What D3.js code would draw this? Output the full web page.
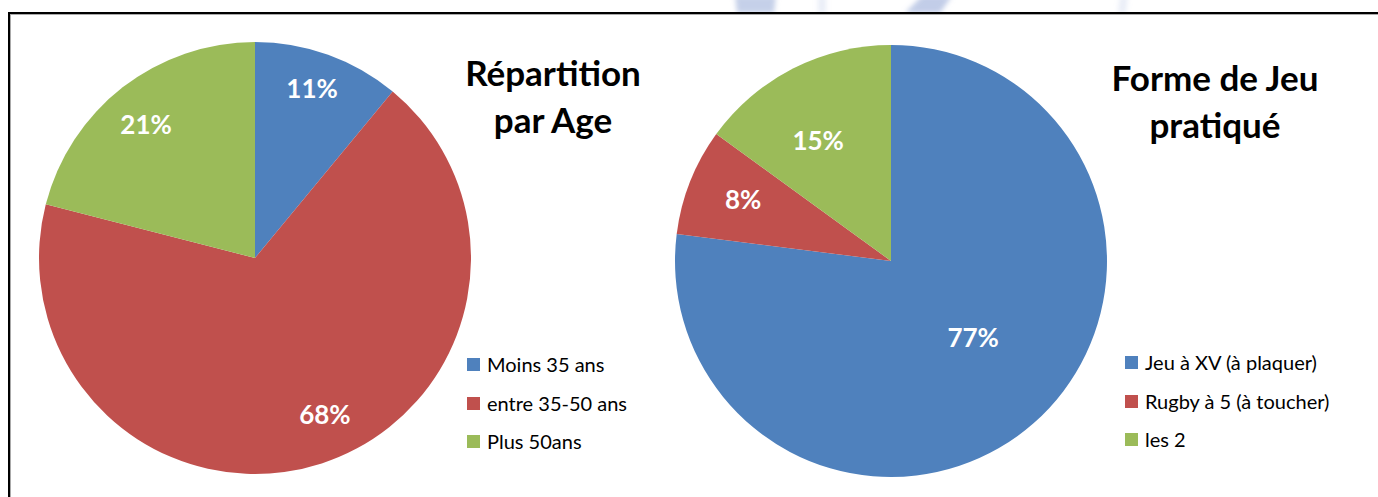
<!DOCTYPE html>
<html>
<head>
<meta charset="utf-8">
<script src="https://cdn.jsdelivr.net/npm/d3@7"></script>
<style>
  body { margin: 0; background: #fff; }
  svg { display: block; font-family: Lato, "Noto Sans", sans-serif; }
</style>
</head>
<body>
<svg id="chart" width="1378" height="497"></svg>
<script>
// chart values
const ageCategories = ['Moins 35 ans', 'entre 35-50 ans', 'Plus 50ans'];
const ageValues = [11, 68, 21];
const ageTitle = ['Répartition', 'par Age'];

const jeuCategories = ['Jeu à XV (à plaquer)', 'Rugby à 5 (à toucher)', 'les 2'];
const jeuValues = [77, 8, 15];
const jeuTitle = ['Forme de Jeu', 'pratiqué'];

const colors = ['#4F81BD', '#C0504D', '#9BBB59'];

const svg = d3.select('#chart');

// faint watermark bits showing above the frame
const defs = svg.append('defs');
defs.append('filter').attr('id', 'soft')
    .append('feGaussianBlur').attr('stdDeviation', 2.5);
const wm = svg.append('g').attr('filter', 'url(#soft)').attr('fill', '#b7c4e4');
wm.append('path').attr('d', 'M735,-4 L776,-4 L774,13 L737,13 Z').attr('opacity', 0.8);
wm.append('path').attr('d', 'M922,-4 L952,-4 L940,13 L905,13 Z').attr('opacity', 0.85);
wm.append('path').attr('d', 'M818,-4 L826,-4 L826,13 L818,13 Z').attr('opacity', 0.3);
wm.append('path').attr('d', 'M1120,-4 L1128,-4 L1126,13 L1118,13 Z').attr('opacity', 0.3);

// frame (box continues past the right and bottom edge)
svg.append('rect')
    .attr('x', 10).attr('y', 14)
    .attr('width', 1400).attr('height', 520)
    .attr('fill', 'none')
    .attr('stroke', '#aaa')
    .attr('stroke-width', 2);
svg.append('rect')
    .attr('x', 9).attr('y', 13)
    .attr('width', 1400).attr('height', 520)
    .attr('fill', 'none')
    .attr('stroke', '#000')
    .attr('stroke-width', 2);

// label placement: radius fraction and angle shift (deg) from the slice middle
const charts = [
    { cats: ageCategories, vals: ageValues, title: ageTitle,
      cx: 255, cy: 258, r: 216,
      labelR: [0.828, 0.796, 0.796], labelShift: [-1.2, -6, -1.5],
      titleX: 553, titleY: [86, 133], legX: 467, legY: [365, 404, 442] },
    { cats: jeuCategories, vals: jeuValues, title: jeuTitle,
      cx: 891, cy: 261, r: 216,
      labelR: [0.52, 0.74, 0.653], labelShift: [-5.6, 0.8, -4.1],
      titleX: 1215, titleY: [91, 138], legX: 1125, legY: [363, 402, 440] }
];

charts.forEach(c => {
    const g = svg.append('g').attr('transform', `translate(${c.cx},${c.cy})`);

    const pie = d3.pie().sort(null).value(d => d);
    const arcs = pie(c.vals);
    const arc = d3.arc().innerRadius(0).outerRadius(c.r);

    g.selectAll('path')
        .data(arcs)
        .enter()
        .append('path')
        .attr('d', arc)
        .attr('fill', (d, i) => colors[i]);

    g.selectAll('text.pct')
        .data(arcs)
        .enter()
        .append('text')
        .attr('class', 'pct')
        .attr('transform', (d, i) => {
            const a = (d.startAngle + d.endAngle) / 2 + c.labelShift[i] * Math.PI / 180;
            const lr = c.r * c.labelR[i];
            return `translate(${lr * Math.sin(a)},${-lr * Math.cos(a)})`;
        })
        .attr('text-anchor', 'middle')
        .attr('dy', '0.36em')
        .attr('fill', '#fff')
        .attr('font-weight', 'bold')
        .attr('font-size', 26)
        .text(d => d.data + '%');

    svg.selectAll(null)
        .data(c.title)
        .enter()
        .append('text')
        .attr('x', c.titleX)
        .attr('y', (d, i) => c.titleY[i])
        .attr('text-anchor', 'middle')
        .attr('font-weight', 'bold')
        .attr('font-size', 35)
        .attr('fill', '#000')
        .text(d => d);

    const leg = svg.append('g');
    c.cats.forEach((name, i) => {
        leg.append('rect')
            .attr('x', c.legX).attr('y', c.legY[i] - 7)
            .attr('width', 13).attr('height', 13)
            .attr('fill', colors[i]);
        leg.append('text')
            .attr('x', c.legX + 20).attr('y', c.legY[i])
            .attr('dy', '0.35em')
            .attr('font-size', 20)
            .attr('fill', '#000')
            .text(name);
    });
});
</script>
</body>
</html>
